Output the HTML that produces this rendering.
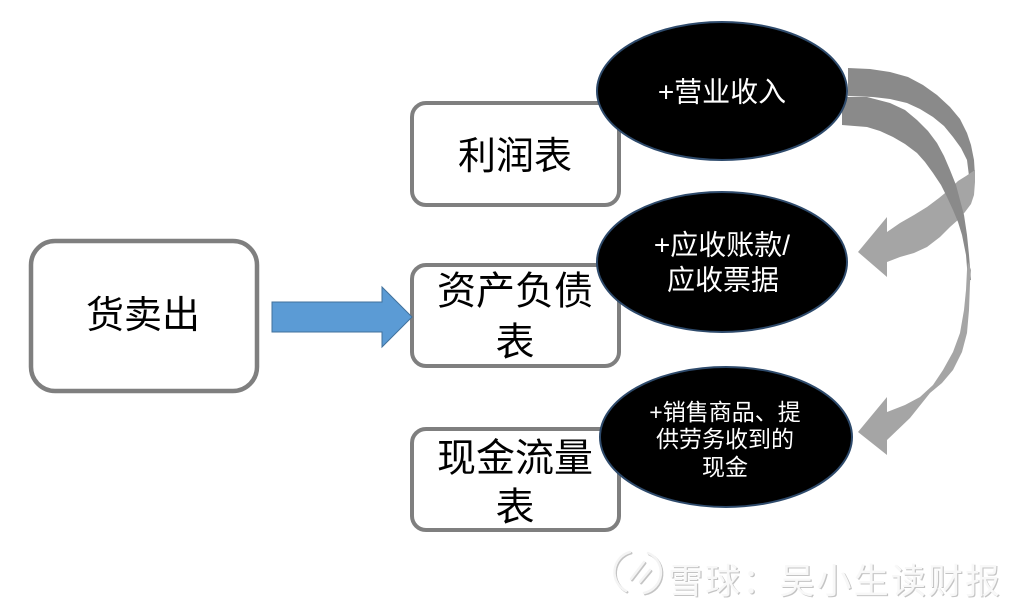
<!DOCTYPE html>
<html>
<head>
<meta charset="utf-8">
<style>
html,body{margin:0;padding:0;background:#fff;}
svg{display:block;}
text{font-family:"Liberation Sans","WenQuanYi Zen Hei","Noto Sans CJK SC",sans-serif;}
</style>
</head>
<body>
<svg width="1016" height="606" viewBox="0 0 1016 606" xmlns="http://www.w3.org/2000/svg">
  <rect x="0" y="0" width="1016" height="606" fill="#ffffff"/>

  <!-- Boxes -->
  <rect x="31" y="241" width="226" height="150" rx="24" ry="24" fill="#fff" stroke="#7f7f7f" stroke-width="4.5"/>
  <rect x="412" y="103" width="207" height="102" rx="14" ry="14" fill="#fff" stroke="#7f7f7f" stroke-width="4"/>
  <rect x="412" y="265" width="207" height="101" rx="14" ry="14" fill="#fff" stroke="#7f7f7f" stroke-width="4"/>
  <rect x="412" y="429" width="207" height="101" rx="14" ry="14" fill="#fff" stroke="#7f7f7f" stroke-width="4"/>

  <text x="143" y="316" font-size="38" text-anchor="middle" dominant-baseline="central" fill="#000">货卖出</text>
  <text x="515" y="157" font-size="38" text-anchor="middle" dominant-baseline="central" fill="#000">利润表</text>
  <text x="515" y="292" font-size="39" text-anchor="middle" dominant-baseline="central" fill="#000">资产负债</text>
  <text x="515" y="343" font-size="39" text-anchor="middle" dominant-baseline="central" fill="#000">表</text>
  <text x="515" y="459" font-size="39" text-anchor="middle" dominant-baseline="central" fill="#000">现金流量</text>
  <text x="515" y="508" font-size="39" text-anchor="middle" dominant-baseline="central" fill="#000">表</text>

  <!-- Blue arrow -->
  <polygon points="272,302 382,302 382,287 412,317 382,347 382,332 272,332" fill="#5b9bd5" stroke="#41719c" stroke-width="1"/>

  <!-- Gray curved arrows -->
  <!-- ribbon 1 dark (back) -->
  <polygon fill="#8a8a8a" points="848,68 870,69 890,72 908,77 923,85 937,95 950,107 960,119 967,133 971,145 974,160 975,176 969,176 967,160 961,148 953,137 944,126 933,117 920,109 907,103 890,99 873,97 848,96"/>
  <!-- ribbon 1 light (front with head) -->
  <polygon fill="#a5a5a5" points="975,170 966,176 958,181 950,189 939,198 927,207 914,215 900,223 887,232 887,217 858,252 887,277 887,262 900,257 914,253 927,247 940,237 950,227 959,219 965,212 971,204 974,195 975,182"/>
  <!-- ribbon 2 dark -->
  <polygon fill="#8a8a8a" points="842,97 867,97 890,103 905,110 917,120 928,131 937,143 944,156 950,170 956,185 960,200 964,215 967,235 969,255 971,280 968,280 966,255 962,235 958,222 953,210 947,197 941,185 933,173 925,162 917,153 905,144 893,137 880,131 867,127 842,125"/>
  <!-- ribbon 2 light with head -->
  <polygon fill="#a5a5a5" points="968,262 971,270 970,283 969,310 967,333 962,352 953,370 942,383 930,393 910,418 887,440 887,455 858,432 887,397 887,412 905,405 920,397 933,385 943,370 953,352 960,333 964,310 966,290 967,270"/>

  <!-- Ellipses -->
  <ellipse cx="722" cy="91" rx="125" ry="69" fill="#000" stroke="#2e4a6b" stroke-width="2"/>
  <ellipse cx="722" cy="262" rx="125" ry="70" fill="#000" stroke="#2e4a6b" stroke-width="2"/>
  <ellipse cx="726" cy="437" rx="126" ry="70" fill="#000" stroke="#2e4a6b" stroke-width="2"/>

  <text x="722" y="92" font-size="28" text-anchor="middle" dominant-baseline="central" fill="#fff">+营业收入</text>
  <text x="722" y="245" font-size="28" text-anchor="middle" dominant-baseline="central" fill="#fff">+应收账款/</text>
  <text x="723" y="280" font-size="28" text-anchor="middle" dominant-baseline="central" fill="#fff">应收票据</text>
  <text x="725" y="412" font-size="23" text-anchor="middle" dominant-baseline="central" fill="#fff">+销售商品、提</text>
  <text x="725" y="439" font-size="23" text-anchor="middle" dominant-baseline="central" fill="#fff">供劳务收到的</text>
  <text x="725" y="467" font-size="23" text-anchor="middle" dominant-baseline="central" fill="#fff">现金</text>

  <!-- Watermark -->
  <g fill="none" stroke-width="2.5" stroke-linecap="round">
    <g transform="translate(1.2,1.2)" stroke="#c4c4c4">
      <path d="M630 552 A21 21 0 0 0 626 591"/>
      <path d="M644 593 A21 21 0 0 0 648 553"/>
      <path d="M631 579 L644 562"/>
      <path d="M640 582 L650 570"/>
    </g>
    <g stroke="#f4f4f4">
      <path d="M630 552 A21 21 0 0 0 626 591"/>
      <path d="M644 593 A21 21 0 0 0 648 553"/>
      <path d="M631 579 L644 562"/>
      <path d="M640 582 L650 570"/>
    </g>
  </g>
  <text x="669.2" y="583.2" font-size="35" dominant-baseline="central" fill="#c4c4c4" textLength="332" lengthAdjust="spacing">雪球：吴小生读财报</text>
  <text x="668" y="582" font-size="35" dominant-baseline="central" fill="#f8f8f8" textLength="332" lengthAdjust="spacing">雪球：吴小生读财报</text>
</svg>
</body>
</html>
